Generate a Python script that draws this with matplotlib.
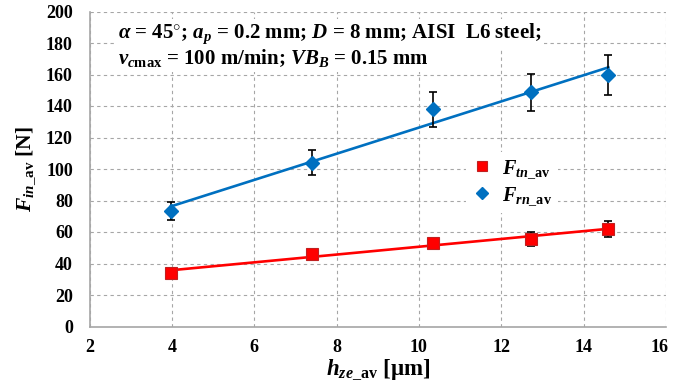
import matplotlib
matplotlib.use("Agg")
import matplotlib.pyplot as plt
import matplotlib.transforms as mtransforms
import numpy as np

plt.rcParams['font.family'] = ['Liberation Serif', 'DejaVu Serif']
plt.rcParams['font.weight'] = 'bold'
plt.rcParams['mathtext.fontset'] = 'custom'
plt.rcParams['mathtext.rm'] = 'Liberation Serif:bold'
plt.rcParams['mathtext.it'] = 'Liberation Serif:italic:bold'
plt.rcParams['mathtext.bf'] = 'Liberation Serif:bold'
plt.rcParams['mathtext.bfit'] = 'Liberation Serif:italic:bold'

# Data
h_ze = [3.98, 7.41, 10.33, 12.73, 14.60]
F_rn = [73.3, 104.0, 137.9, 148.7, 159.7]
F_rn_err = [5.5, 8.0, 11.0, 11.7, 12.6]
F_tn = [34.2, 46.0, 53.0, 55.6, 62.0]
F_tn_err = [2.0, 3.0, 3.5, 4.3, 5.0]

x_ticks = [2, 4, 6, 8, 10, 12, 14, 16]
y_ticks = [0, 20, 40, 60, 80, 100, 120, 140, 160, 180, 200]

red = '#FF0000'
blue = '#0070C0'

W, H = 673, 390
fig = plt.figure(figsize=(W / 100, H / 100), dpi=100)
ax = fig.add_axes([89.5 / W, 1 - 326.5 / H, (666 - 89.5) / W, (326.5 - 11.5) / H])

x = np.array(h_ze)
# trend lines (linear fits)
for yv, c in ((F_tn, red), (F_rn, blue)):
    p = np.polyfit(x, np.array(yv), 1)
    xx = np.array([x.min(), x.max()])
    ax.plot(xx, np.polyval(p, xx), color=c, lw=1.9, zorder=3)

ax.errorbar(h_ze, F_tn, yerr=F_tn_err, fmt='none', ecolor='black', elinewidth=1.2,
            capsize=3, capthick=1.2, zorder=4)
ax.errorbar(h_ze, F_rn, yerr=F_rn_err, fmt='none', ecolor='black', elinewidth=1.2,
            capsize=3, capthick=1.2, zorder=4)
ax.plot(h_ze, F_tn, 's', color=red, mec='#C02020', mew=0.8, ms=9, zorder=5,
        label=r'$\mathbfit{F}_{\mathbfit{tn}\_\mathbf{av}}$')
ax.plot(h_ze, F_rn, 'D', color=blue, mec=blue, ms=7.5, zorder=5,
        label=r'$\mathbfit{F}_{\mathbfit{rn}\_\mathbf{av}}$')

ax.set_xlim(2, 16)
ax.set_ylim(0, 200)
ax.set_xticks(x_ticks)
ax.set_yticks(y_ticks)
ax.tick_params(axis='y', length=0, labelsize=13, pad=12)
ax.tick_params(axis='x', length=0, labelsize=13, pad=9)
for lab in ax.get_xticklabels() + ax.get_yticklabels():
    lab.set_fontweight('bold')
last = ax.get_xticklabels()[-1]
last.set_transform(last.get_transform() + mtransforms.ScaledTranslation(-6 / 100, 0, fig.dpi_scale_trans))

ax.grid(True, color='#A6A6A6', linestyle=(0, (3, 3)), lw=0.8)
ax.set_axisbelow(True)
for s in ('top', 'right'):
    ax.spines[s].set_visible(False)
for s in ('left', 'bottom'):
    ax.spines[s].set_color('#A6A6A6')
    ax.spines[s].set_linewidth(1.2)

ax.set_ylabel(r'$\mathbfit{F}_{\mathbfit{in}\_\mathbf{av}}$ [N]', fontsize=15.5, fontweight='bold')
ax.yaxis.set_label_coords(-(89.5 - 25) / 577, 0.5)
ax.set_xlabel(r'$\mathbfit{h}_{\mathbfit{ze}\_\mathbf{av}}$ [μm]', fontsize=16.5, fontweight='bold')
ax.xaxis.set_label_coords(0.5, -(370 - 326.5) / 315)
ax.xaxis.label.set_va('center')
ax.yaxis.label.set_va('center')

leg = ax.legend(loc='upper left', bbox_to_anchor=(456 / W, 1 - 142 / H),
                bbox_transform=fig.transFigure, frameon=True, fancybox=False,
                edgecolor='none', facecolor='white', framealpha=1, fontsize=14.5,
                handlelength=1.0, handletextpad=0.5, borderpad=0.3, labelspacing=0.25,
                markerscale=0.75)

line1 = (r'$\mathbfit{\alpha}$ = 45$^{\circ}$; $\mathbfit{a}_{\mathbfit{p}}$ = 0.2 mm; '
         r'$\mathbfit{D}$ = 8 mm; AISI  L6 steel;')
line2 = (r'$\mathbfit{v}_{\mathbfit{c}\mathbf{max}}$ = 100 m/min; '
         r'$\mathbfit{VB}_{\mathbfit{B}}$ = 0.15 mm')
fig.text(118 / W, 1 - 38 / H, line1, fontsize=15, fontweight='bold', va='baseline',
         bbox=dict(facecolor='white', edgecolor='none', pad=2))
fig.text(118 / W, 1 - 64 / H, line2, fontsize=15, fontweight='bold', va='baseline',
         bbox=dict(facecolor='white', edgecolor='none', pad=2))

fig.savefig('out.png', dpi=100)
